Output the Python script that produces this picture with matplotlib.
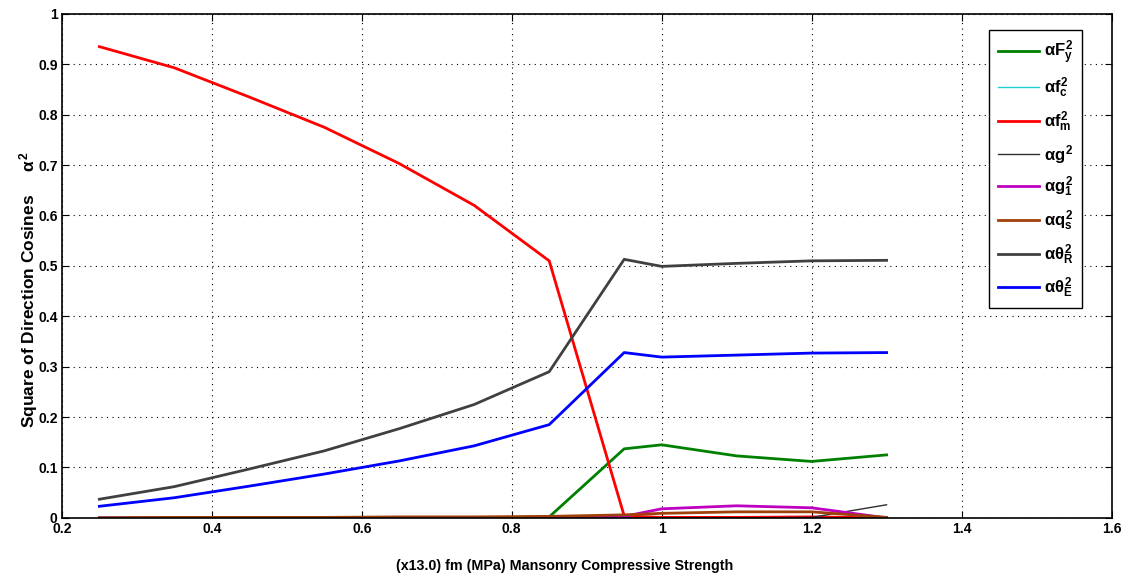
import matplotlib
matplotlib.use("Agg")
import matplotlib.pyplot as plt

plt.rcParams['font.family'] = ['Liberation Sans', 'DejaVu Sans']
plt.rcParams['font.weight'] = 'bold'
plt.rcParams['mathtext.fontset'] = 'custom'
plt.rcParams['mathtext.rm'] = 'Liberation Sans:bold'
plt.rcParams['mathtext.it'] = 'Liberation Sans:bold'
plt.rcParams['mathtext.bf'] = 'Liberation Sans:bold'

# x positions (fm / 13.0)
fm = [0.25, 0.35, 0.45, 0.55, 0.65, 0.75, 0.85, 0.95, 1.0, 1.1, 1.2, 1.3]

# square of direction cosines per variable
Fy = [0.0, 0.0, 0.0, 0.0, 0.0, 0.0, 0.002, 0.137, 0.145, 0.123, 0.112, 0.125]
fc = [0.0, 0.0, 0.0, 0.0, 0.0, 0.0, 0.0, 0.0, 0.0, 0.0, 0.0, 0.0]
fmv = [0.935, 0.893, 0.835, 0.775, 0.703, 0.620, 0.510, 0.004, 0.001, 0.001, 0.002, 0.0]
g = [0.0, 0.0, 0.0, 0.0, 0.0, 0.0, 0.0, 0.0, 0.0, 0.0, 0.001, 0.026]
g1 = [0.0, 0.0, 0.0, 0.0, 0.0, 0.0, 0.001, 0.003, 0.018, 0.024, 0.020, 0.0]
qs = [0.0, 0.001, 0.001, 0.001, 0.002, 0.002, 0.003, 0.006, 0.009, 0.012, 0.012, 0.001]
thR = [0.037, 0.062, 0.097, 0.133, 0.177, 0.225, 0.290, 0.513, 0.499, 0.505, 0.510, 0.511]
thE = [0.023, 0.040, 0.063, 0.087, 0.113, 0.143, 0.185, 0.328, 0.319, 0.323, 0.327, 0.328]

series = [
    (Fy,  r'$\alpha F_y^2$',        "#008000", 2.0),
    (fc,  r'$\alpha f_c^2$',        "#20d0d0", 1.0),
    (fmv, r'$\alpha f_m^2$',        "#ff0000", 2.0),
    (g,   r'$\alpha g^2$',          "#303030", 1.0),
    (g1,  r'$\alpha g_1^2$',        "#c000c0", 2.0),
    (qs,  r'$\alpha q_s^2$',        "#a0400a", 2.0),
    (thR, r'$\alpha \theta_R^2$',   "#404040", 2.0),
    (thE, r'$\alpha \theta_E^2$',   "#0000ff", 2.0),
]

fig = plt.figure(figsize=(11.25, 5.78), dpi=100)
ax = fig.add_axes([0.055, 0.104, 0.933, 0.872])

for ys, label, color, lw in series:
    ax.plot(fm, ys, color=color, linewidth=lw, label=label)

ax.set_xlim(0.2, 1.6)
ax.set_ylim(0, 1)
ax.set_xticks([0.2, 0.4, 0.6, 0.8, 1.0, 1.2, 1.4, 1.6])
ax.set_xticklabels(["0.2", "0.4", "0.6", "0.8", "1", "1.2", "1.4", "1.6"])
ax.set_yticks([i / 10 for i in range(11)])
ax.set_yticklabels(["0", "0.1", "0.2", "0.3", "0.4", "0.5", "0.6", "0.7", "0.8", "0.9", "1"])
ax.tick_params(direction="in", top=True, right=True, labelsize=10, length=5, pad=3)
for lab in ax.get_xticklabels() + ax.get_yticklabels():
    lab.set_fontweight("bold")
ax.grid(True, color="black", linestyle=(0, (1, 4)), linewidth=0.8)
for sp in ax.spines.values():
    sp.set_linewidth(1.2)

ax.set_xlabel("(x13.0) fm (MPa) Mansonry Compressive Strength", fontsize=10.3, fontweight="bold")
ax.xaxis.set_label_coords(0.479, -0.082)
ax.set_ylabel(r'Square of Direction Cosines     $\alpha^2$', fontsize=12.5, fontweight="bold")
ax.yaxis.set_label_coords(-0.021, 0.452)

leg = ax.legend(loc="upper right", bbox_to_anchor=(0.972, 0.968), borderaxespad=0,
                fontsize=12, fancybox=False, framealpha=1, edgecolor="black",
                handlelength=2.5, handletextpad=0.3, labelspacing=0.55, borderpad=0.5)
leg.get_frame().set_linewidth(1.0)

fig.savefig("out.png", dpi=100)
